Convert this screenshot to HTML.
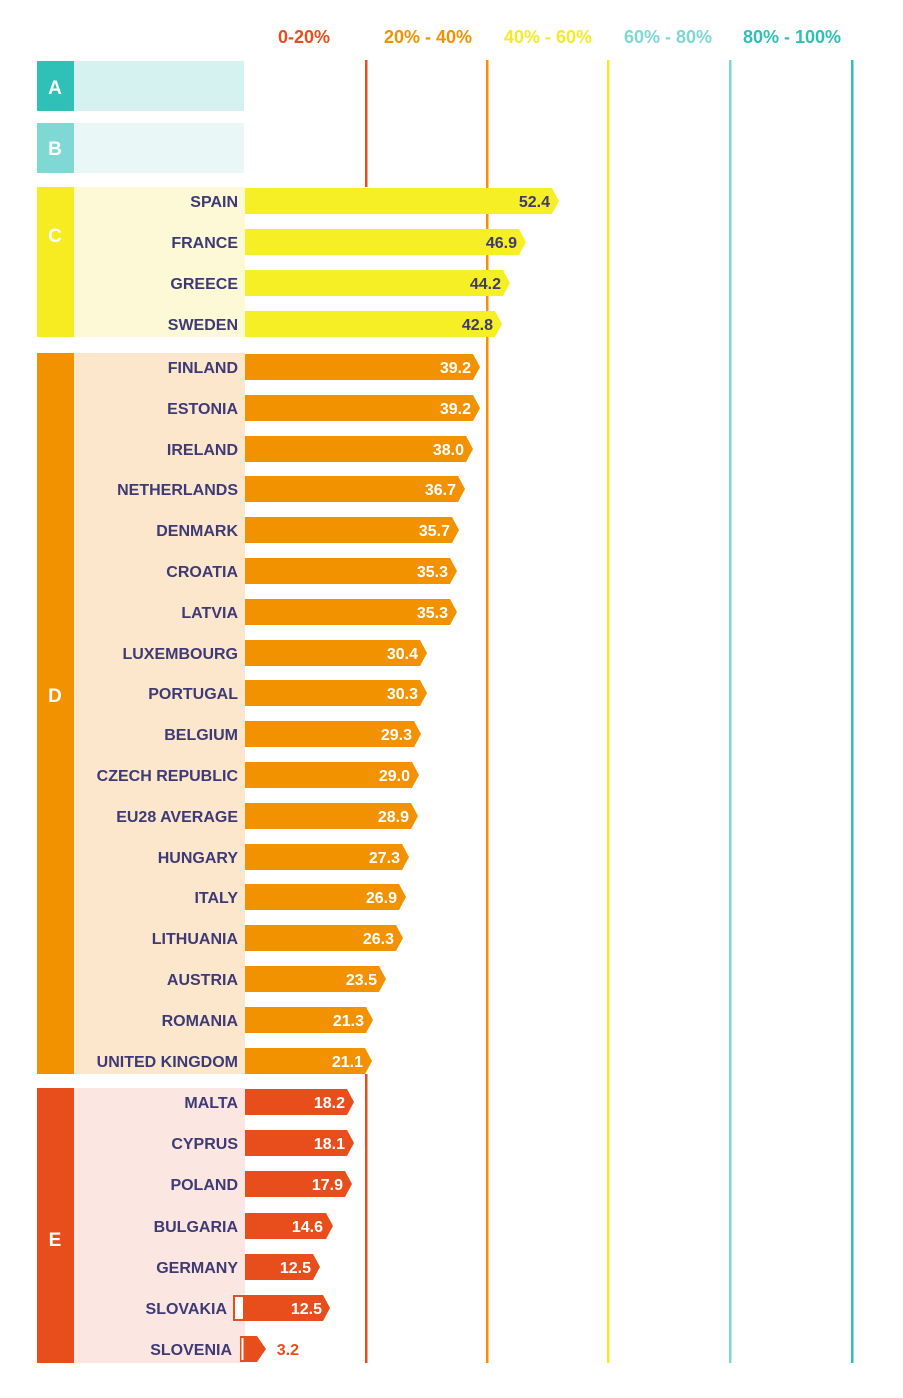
<!DOCTYPE html>
<html><head><meta charset="utf-8"><style>
html,body{margin:0;padding:0;background:#fff;}
svg{display:block;}
text{font-family:"Liberation Sans",sans-serif;font-weight:bold;}
.l{fill:#3d3a75;font-size:16px;text-anchor:end;}
.v{fill:#fff;font-size:16px;text-anchor:end;}
.h{font-size:18px;text-anchor:middle;}
.s{fill:#fff;font-size:19px;text-anchor:middle;}
</style></head><body>
<svg width="903" height="1398" viewBox="0 0 903 1398">
<text class="h" x="304" y="43" fill="#e84e1b">0-20%</text>
<text class="h" x="428" y="43" fill="#f39200">20% - 40%</text>
<text class="h" x="548" y="43" fill="#f5e92a">40% - 60%</text>
<text class="h" x="668" y="43" fill="#7dd8d4">60% - 80%</text>
<text class="h" x="792" y="43" fill="#2fbfb5">80% - 100%</text>
<rect x="365" y="60" width="2.5" height="127" fill="#e84e1b"/>
<rect x="365" y="1074" width="2.5" height="289" fill="#e84e1b"/>
<rect x="486" y="60" width="2.5" height="1303" fill="#f39200"/>
<rect x="607" y="60" width="2.5" height="1303" fill="#f5e92a"/>
<rect x="729" y="60" width="2.5" height="1303" fill="#7dd8d4"/>
<rect x="851" y="60" width="2.5" height="1303" fill="#2fbfb5"/>
<rect x="37" y="61" width="37" height="50" fill="#2fc0b8"/><rect x="74" y="61" width="170" height="50" fill="#d6f2f0"/>
<text class="s" x="55" y="94">A</text>
<rect x="37" y="123" width="37" height="50" fill="#80d8d4"/><rect x="74" y="123" width="170" height="50" fill="#e9f8f7"/>
<text class="s" x="55" y="155">B</text>
<rect x="37" y="187" width="37" height="150" fill="#f7ec22"/><rect x="74" y="187" width="171" height="150" fill="#fdf9d6"/>
<text class="s" x="55" y="242">C</text>
<rect x="37" y="353" width="37" height="721" fill="#f39200"/><rect x="74" y="353" width="171" height="721" fill="#fde7cc"/>
<text class="s" x="55" y="702">D</text>
<rect x="37" y="1088" width="37" height="275" fill="#e84e1b"/><rect x="74" y="1088" width="171" height="275" fill="#fbe6e1"/>
<text class="s" x="55" y="1246">E</text>
<g fill="#f7ef26">
<polygon points="245,188 552,188 559,201 552,214 245,214"/>
<polygon points="245,229 519,229 526,242 519,255 245,255"/>
<polygon points="245,270 503,270 510,283 503,296 245,296"/>
<polygon points="245,311 495,311 502,324 495,337 245,337"/>
</g>
<g class="l">
<text x="238" y="207">SPAIN</text><text x="238" y="248">FRANCE</text><text x="238" y="289">GREECE</text><text x="238" y="330">SWEDEN</text>
</g>
<g class="v" fill="#3d3a6e" style="fill:#3d3a6e">
<text x="550" y="207" style="fill:#3d3a6e">52.4</text><text x="517" y="248" style="fill:#3d3a6e">46.9</text><text x="501" y="289" style="fill:#3d3a6e">44.2</text><text x="493" y="330" style="fill:#3d3a6e">42.8</text>
</g>
<g fill="#f39200">
<polygon points="245,354 473,354 480,367 473,380 245,380"/>
<polygon points="245,395 473,395 480,408 473,421 245,421"/>
<polygon points="245,436 466,436 473,449 466,462 245,462"/>
<polygon points="245,476 458,476 465,489 458,502 245,502"/>
<polygon points="245,517 452,517 459,530 452,543 245,543"/>
<polygon points="245,558 450,558 457,571 450,584 245,584"/>
<polygon points="245,599 450,599 457,612 450,625 245,625"/>
<polygon points="245,640 420,640 427,653 420,666 245,666"/>
<polygon points="245,680 420,680 427,693 420,706 245,706"/>
<polygon points="245,721 414,721 421,734 414,747 245,747"/>
<polygon points="245,762 412,762 419,775 412,788 245,788"/>
<polygon points="245,803 411,803 418,816 411,829 245,829"/>
<polygon points="245,844 402,844 409,857 402,870 245,870"/>
<polygon points="245,884 399,884 406,897 399,910 245,910"/>
<polygon points="245,925 396,925 403,938 396,951 245,951"/>
<polygon points="245,966 379,966 386,979 379,992 245,992"/>
<polygon points="245,1007 366,1007 373,1020 366,1033 245,1033"/>
<polygon points="245,1048 365,1048 372,1061 365,1074 245,1074"/>
</g>
<g class="l">
<text x="238" y="373">FINLAND</text><text x="238" y="414">ESTONIA</text><text x="238" y="455">IRELAND</text><text x="238" y="495">NETHERLANDS</text><text x="238" y="536">DENMARK</text><text x="238" y="577">CROATIA</text><text x="238" y="618">LATVIA</text><text x="238" y="659">LUXEMBOURG</text><text x="238" y="699">PORTUGAL</text><text x="238" y="740">BELGIUM</text><text x="238" y="781">CZECH REPUBLIC</text><text x="238" y="822">EU28 AVERAGE</text><text x="238" y="863">HUNGARY</text><text x="238" y="903">ITALY</text><text x="238" y="944">LITHUANIA</text><text x="238" y="985">AUSTRIA</text><text x="238" y="1026">ROMANIA</text><text x="238" y="1067">UNITED KINGDOM</text>
</g>
<g class="v">
<text x="471" y="373">39.2</text><text x="471" y="414">39.2</text><text x="464" y="455">38.0</text><text x="456" y="495">36.7</text><text x="450" y="536">35.7</text><text x="448" y="577">35.3</text><text x="448" y="618">35.3</text><text x="418" y="659">30.4</text><text x="418" y="699">30.3</text><text x="412" y="740">29.3</text><text x="410" y="781">29.0</text><text x="409" y="822">28.9</text><text x="400" y="863">27.3</text><text x="397" y="903">26.9</text><text x="394" y="944">26.3</text><text x="377" y="985">23.5</text><text x="364" y="1026">21.3</text><text x="363" y="1067">21.1</text>
</g>
<g fill="#e84e1b">
<polygon points="245,1089 347,1089 354,1102 347,1115 245,1115"/>
<polygon points="245,1130 347,1130 354,1143 347,1156 245,1156"/>
<polygon points="245,1171 345,1171 352,1184 345,1197 245,1197"/>
<polygon points="245,1213 326,1213 333,1226 326,1239 245,1239"/>
<polygon points="245,1254 313,1254 320,1267 313,1280 245,1280"/>
<polygon points="233,1295 323,1295 330,1308 323,1321 233,1321"/>
<polygon points="240,1336 257,1336 266,1349 257,1362 240,1362"/>
</g>
<rect x="235" y="1297" width="8" height="22" fill="#fff"/>
<rect x="241.5" y="1338" width="2" height="22" fill="#fff"/>
<g class="l">
<text x="238" y="1108">MALTA</text><text x="238" y="1149">CYPRUS</text><text x="238" y="1190">POLAND</text><text x="238" y="1232">BULGARIA</text><text x="238" y="1273">GERMANY</text><text x="227" y="1314">SLOVAKIA</text><text x="232" y="1355">SLOVENIA</text>
</g>
<g class="v">
<text x="345" y="1108">18.2</text><text x="345" y="1149">18.1</text><text x="343" y="1190">17.9</text><text x="323" y="1232">14.6</text><text x="311" y="1273">12.5</text><text x="322" y="1314">12.5</text>
<text x="299" y="1355" style="fill:#e84e1b">3.2</text>
</g>
</svg>
</body></html>
